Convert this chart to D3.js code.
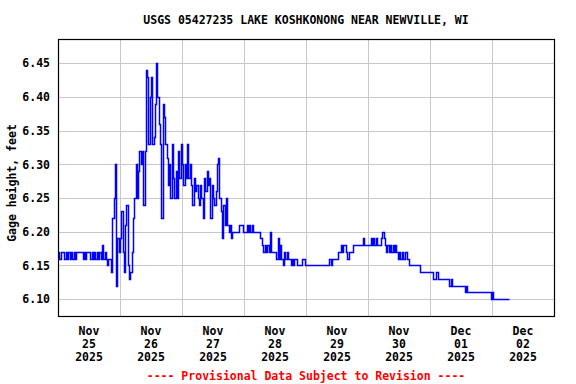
<!DOCTYPE html>
<html lang="en">
<head>
<meta charset="utf-8">
<script src="https://cdn.jsdelivr.net/npm/d3@7"></script>
<style>
  body { margin: 0; background: #fff; }
  text { font-family: "DejaVu Sans Mono", monospace; font-weight: bold; font-size: 11.5px; }
</style>
</head>
<body>
<svg id="chart" width="576" height="384"></svg>
<script>
var title = 'USGS 05427235 LAKE KOSHKONONG NEAR NEWVILLE, WI';
var yLabel = 'Gage height, feet';
var footnote = '---- Provisional Data Subject to Revision ----';
var yTicks = [6.10, 6.15, 6.20, 6.25, 6.30, 6.35, 6.40, 6.45];
var dayLabels = [
  ['Nov', '25', '2025'], ['Nov', '26', '2025'], ['Nov', '27', '2025'], ['Nov', '28', '2025'],
  ['Nov', '29', '2025'], ['Nov', '30', '2025'], ['Dec', '01', '2025'], ['Dec', '02', '2025']
];

// gage height readings, feet, every 30 minutes from midnight of each day
var nov25 = [6.17,6.16,6.17,6.17,6.17,6.16,6.17,6.16,6.17,6.16, 6.17,6.16,6.17,6.16,6.17,6.17,6.17,6.17,6.17,6.16,
  6.17,6.16,6.17,6.17,6.17,6.16,6.17,6.16,6.17,6.16, 6.17,6.16,6.17,6.16,6.18,6.16,6.17,6.16,6.15,6.16,
  6.16,6.14,6.22,6.25,6.30,6.12,6.19,6.17];
var nov26 = [6.19,6.23,6.17,6.14,6.21,6.24,6.15,6.13,6.14,6.17, 6.22,6.25,6.30,6.25,6.29,6.32,6.30,6.32,6.24,6.32,
  6.44,6.43,6.33,6.40,6.43,6.33,6.34,6.39,6.45,6.40, 6.36,6.33,6.22,6.39,6.37,6.33,6.31,6.27,6.30,6.25,
  6.33,6.28,6.25,6.29,6.25,6.32,6.28,6.33];
var nov27 = [6.30,6.27,6.30,6.28,6.33,6.28,6.30,6.27,6.24,6.28, 6.26,6.27,6.25,6.24,6.27,6.25,6.22,6.28,6.26,6.29,
  6.27,6.28,6.22,6.27,6.25,6.24,6.26,6.30,6.31,6.25, 6.23,6.19,6.24,6.21,6.25,6.21,6.20,6.21,6.19,6.20,
  6.20,6.20,6.20,6.20,6.21,6.21,6.21,6.20];
var nov28 = [6.20,6.20,6.21,6.20,6.21,6.20,6.21,6.20,6.20,6.20, 6.20,6.20,6.19,6.19,6.18,6.17,6.18,6.17,6.18,6.17,
  6.20,6.17,6.17,6.17,6.17,6.16,6.19,6.16,6.18,6.16, 6.15,6.17,6.16,6.17,6.16,6.16,6.15,6.16,6.15,6.16,
  6.16,6.15,6.15,6.15,6.15,6.16,6.16,6.15];
var nov29 = [6.15,6.15,6.15,6.15,6.15,6.15,6.15,6.15,6.15,6.15, 6.15,6.15,6.15,6.15,6.15,6.15,6.15,6.15,6.16,6.15,
  6.16,6.16,6.16,6.16,6.16,6.17,6.17,6.18,6.17,6.18, 6.18,6.17,6.16,6.17,6.17,6.17,6.18,6.18,6.18,6.18,
  6.18,6.18,6.18,6.18,6.19,6.18,6.18,6.18];
var nov30 = [6.18,6.18,6.19,6.18,6.19,6.18,6.19,6.18,6.18,6.18, 6.19,6.20,6.19,6.18,6.17,6.18,6.17,6.18,6.17,6.18,
  6.17,6.18,6.17,6.16,6.17,6.16,6.17,6.16,6.16,6.17, 6.16,6.16,6.15,6.15,6.15,6.15,6.15,6.15,6.15,6.15,
  6.14,6.14,6.14,6.14,6.14,6.14,6.14,6.14];
var dec01 = [6.14,6.14,6.13,6.13,6.13,6.14,6.13,6.13,6.13,6.13, 6.13,6.13,6.13,6.13,6.13,6.12,6.13,6.12,6.12,6.12,
  6.12,6.12,6.12,6.12,6.12,6.12,6.12,6.11,6.12,6.11, 6.11,6.11,6.11,6.11,6.11,6.11,6.11,6.11,6.11,6.11,
  6.11,6.11,6.11,6.11,6.11,6.11,6.11,6.10];
var dec02 = [6.11,6.10,6.10,6.10,6.10,6.10,6.10,6.10,6.10,6.10, 6.10,6.10,6.10,6.10];

var days = [nov25, nov26, nov27, nov28, nov29, nov30, dec01, dec02];

var data = [];
days.forEach(function(vals, d) {
  vals.forEach(function(v, i) {
    data.push({ t: new Date(Date.UTC(2025, 10, 25 + d, 0, i * 30)), v: v });
  });
});

var margin = { left: 58, right: 554, top: 39, bottom: 316 };

var svg = d3.select('#chart');

var x = d3.scaleUtc()
  .domain([new Date(Date.UTC(2025, 10, 25)), new Date(Date.UTC(2025, 11, 3))])
  .range([margin.left, margin.right]);

var y = d3.scaleLinear()
  .domain([6.0748, 6.4861])
  .range([margin.bottom, margin.top]);

var midnights = d3.range(1, 8).map(function(d) { return new Date(Date.UTC(2025, 10, 25 + d)); });
var noons = d3.range(0, 8).map(function(d) { return new Date(Date.UTC(2025, 10, 25 + d, 12)); });

// horizontal grid + y tick labels
var gy = svg.append('g')
  .attr('transform', 'translate(' + margin.left + ',0)')
  .call(d3.axisLeft(y).tickValues(yTicks).tickSize(-(margin.right - margin.left)).tickPadding(8).tickFormat(d3.format('.2f')));
gy.select('.domain').remove();
gy.selectAll('line').attr('stroke', '#c8c8c8').attr('shape-rendering', 'crispEdges');
gy.selectAll('text').attr('fill', '#000').style('font-size', '11.5px').style('font-family', '"DejaVu Sans Mono", monospace');

// vertical grid at midnight
var gx = svg.append('g')
  .attr('transform', 'translate(0,' + margin.bottom + ')')
  .call(d3.axisBottom(x).tickValues(midnights).tickSize(-(margin.bottom - margin.top)).tickFormat(''));
gx.select('.domain').remove();
gx.selectAll('line').attr('stroke', '#c8c8c8').attr('shape-rendering', 'crispEdges');

// day labels at noon
var lab = svg.append('g').selectAll('text')
  .data(noons)
  .enter()
  .append('text')
  .attr('text-anchor', 'middle')
  .attr('x', function(d) { return x(d); });
lab.each(function(d, i) {
  var t = d3.select(this);
  dayLabels[i].forEach(function(s, k) {
    t.append('tspan').attr('x', x(d)).attr('y', 335 + k * 13).text(s);
  });
});

// data line, snapped to the pixel grid
var line = d3.line()
  .x(function(d) { return Math.round(x(d.t)) + 0.5; })
  .y(function(d) { return Math.round(y(d.v)) + 0.5; })
  .curve(d3.curveStepAfter);

svg.append('path')
  .datum(data)
  .attr('d', line)
  .attr('fill', 'none')
  .attr('stroke', '#0000ff')
  .attr('stroke-width', 1.5);

// frame
svg.append('rect')
  .attr('x', margin.left + 0.5)
  .attr('y', margin.top + 0.5)
  .attr('width', margin.right - margin.left)
  .attr('height', margin.bottom - margin.top)
  .attr('fill', 'none')
  .attr('stroke', '#000')
  .attr('stroke-width', 1.2);

svg.append('text')
  .attr('x', (margin.left + margin.right) / 2)
  .attr('y', 24)
  .attr('text-anchor', 'middle')
  .text(title);

svg.append('text')
  .attr('transform', 'translate(16,183) rotate(-90)')
  .attr('text-anchor', 'middle')
  .text(yLabel);

svg.append('text')
  .attr('x', (margin.left + margin.right) / 2)
  .attr('y', 380)
  .attr('text-anchor', 'middle')
  .attr('fill', '#ff0000')
  .text(footnote);
</script>
</body>
</html>
